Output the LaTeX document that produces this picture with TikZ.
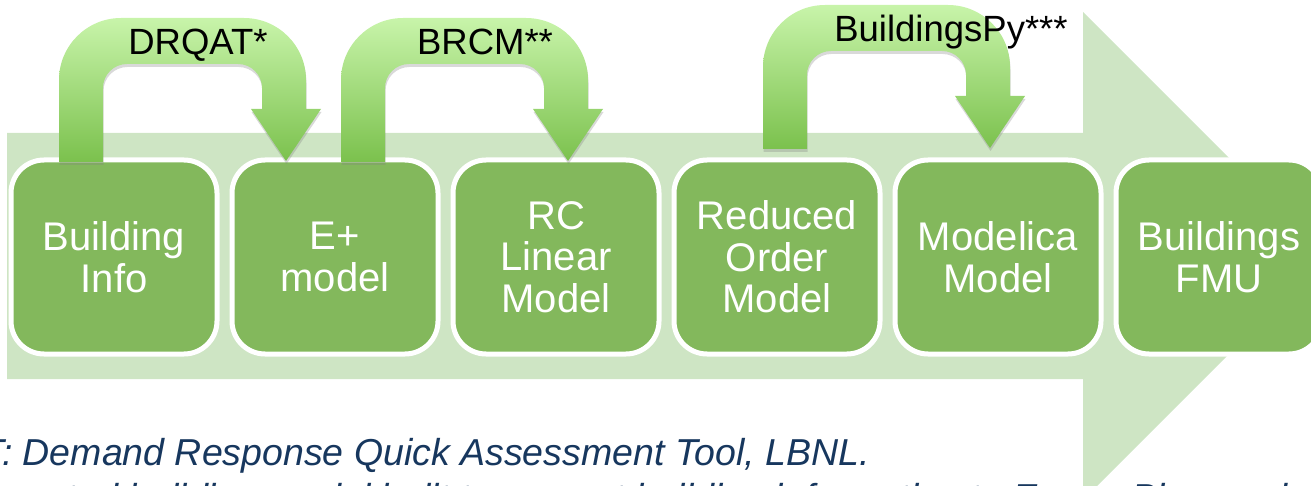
\documentclass[tikz,border=0pt]{standalone}
\usepackage{fontspec}
\setmainfont{Liberation Sans}
\usetikzlibrary{shadows}
\definecolor{bandgreen}{HTML}{CEE5C4}
\definecolor{boxgreen}{HTML}{83B85C}
\definecolor{arrtop}{HTML}{C8F4AA}
\definecolor{arrbot}{HTML}{7BC14D}
\definecolor{notes}{HTML}{17375E}
\tikzset{
  stagebox/.style={draw=white, line width=5pt, fill=boxgreen, rounded corners=33pt,
    minimum width=206pt, minimum height=194pt, align=center, text=white,
    font=\fontsize{40}{41.5}\selectfont, inner sep=0pt},
  bentarrow/.style={top color=arrtop, bottom color=arrbot,
    drop shadow={shadow xshift=0.5pt, shadow yshift=-3pt, opacity=0.3}},
  bentshape/.style={insert path={(59,162) -- (59,80) .. controls (59,45.8) and (86.8,18) .. (121,18)
    -- (244,18) .. controls (278.2,18) and (306,45.8) .. (306,80) -- (306,109) -- (321,109)
    -- (286,161) -- (251,109) -- (262,109) -- (262,88) .. controls (262,74.7) and (251.3,64) .. (238,64)
    -- (127,64) .. controls (113.7,64) and (103,74.7) .. (103,88) -- (103,162) -- cycle}},
  toollabel/.style={font=\fontsize{36.5}{38}\selectfont, text=black, anchor=base, inner sep=0pt},
  notetext/.style={font=\fontsize{37.5}{39}\selectfont\itshape, text=notes, inner sep=0pt},
}
\begin{document}
\begin{tikzpicture}[x=1pt,y=-1pt]
\useasboundingbox (0,0) rectangle (1311,486);
\clip (0,0) rectangle (1311,486);
% footnotes (partly hidden behind the band arrow)
\node[notetext, anchor=base east] (n1) at (870,465) {*DRQAT: Demand Response Quick Assessment Tool, LBNL.};
\node[notetext, anchor=base west] (n2) at (-59,510) {automated building model built to convert building information to EnergyPlus model};
% big band arrow
\fill[bandgreen] (7,133) -- (1083,133) -- (1083,12) -- (1327,256) -- (1083,500) -- (1083,379) -- (7,379) -- cycle;
% stage boxes
\node[stagebox] (b1) at (114,257) {Building\\Info};
\node[stagebox] (b2) at (335,257) {E+\\model};
\node[stagebox] (b3) at (556,257) {RC\\Linear\\Model};
\node[stagebox] (b4) at (777,257) {Reduced\\Order\\Model};
\node[stagebox] (b5) at (998,257) {Modelica\\Model};
\node[stagebox] (b6) at (1219,257) {Buildings\\FMU};
% bent arrows
\path[bentarrow] [bentshape];
\begin{scope}[xshift=282pt]
\path[bentarrow] [bentshape];
\end{scope}
\begin{scope}[xshift=704pt, yshift=13pt]
\path[bentarrow] [bentshape];
\end{scope}
% tool labels
\node[toollabel] (l1) at (198,55) {DRQAT*};
\node[toollabel] (l2) at (485,55) {BRCM**};
\node[toollabel] (l3) at (951,42) {BuildingsPy***};
\end{tikzpicture}
\end{document}
